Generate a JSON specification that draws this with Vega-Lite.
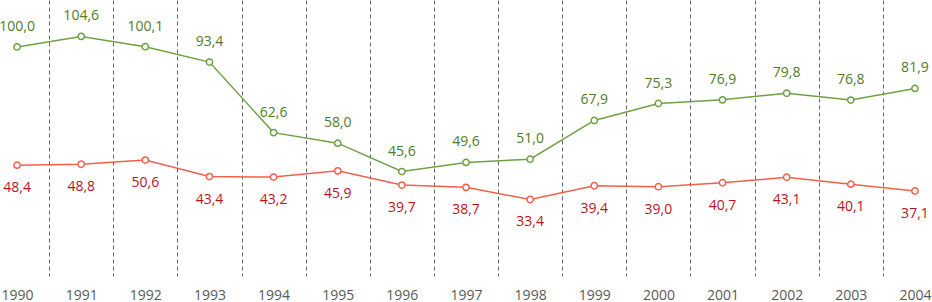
{
  "$schema": "https://vega.github.io/schema/vega-lite/v6.json",
  "width": 932,
  "height": 276,
  "autosize": {"type": "none"},
  "padding": {"left": 0, "top": 0, "right": 0, "bottom": 26},
  "background": "white",
  "config": {
    "view": {"stroke": null},
    "locale": {
      "number": {"decimal": ",", "thousands": ".", "grouping": [3], "currency": ["", " €"]}
    }
  },
  "data": {
    "values": [
      {"year": "1990", "series": "A", "value": 100.0},
      {"year": "1991", "series": "A", "value": 104.6},
      {"year": "1992", "series": "A", "value": 100.1},
      {"year": "1993", "series": "A", "value": 93.4},
      {"year": "1994", "series": "A", "value": 62.6},
      {"year": "1995", "series": "A", "value": 58.0},
      {"year": "1996", "series": "A", "value": 45.6},
      {"year": "1997", "series": "A", "value": 49.6},
      {"year": "1998", "series": "A", "value": 51.0},
      {"year": "1999", "series": "A", "value": 67.9},
      {"year": "2000", "series": "A", "value": 75.3},
      {"year": "2001", "series": "A", "value": 76.9},
      {"year": "2002", "series": "A", "value": 79.8},
      {"year": "2003", "series": "A", "value": 76.8},
      {"year": "2004", "series": "A", "value": 81.9},
      {"year": "1990", "series": "B", "value": 48.4},
      {"year": "1991", "series": "B", "value": 48.8},
      {"year": "1992", "series": "B", "value": 50.6},
      {"year": "1993", "series": "B", "value": 43.4},
      {"year": "1994", "series": "B", "value": 43.2},
      {"year": "1995", "series": "B", "value": 45.9},
      {"year": "1996", "series": "B", "value": 39.7},
      {"year": "1997", "series": "B", "value": 38.7},
      {"year": "1998", "series": "B", "value": 33.4},
      {"year": "1999", "series": "B", "value": 39.4},
      {"year": "2000", "series": "B", "value": 39.0},
      {"year": "2001", "series": "B", "value": 40.7},
      {"year": "2002", "series": "B", "value": 43.1},
      {"year": "2003", "series": "B", "value": 40.1},
      {"year": "2004", "series": "B", "value": 37.1}
    ]
  },
  "encoding": {
    "x": {
      "field": "year",
      "type": "ordinal",
      "scale": {"range": [-15, 947], "paddingInner": 0, "paddingOuter": 0},
      "axis": {
        "title": null,
        "grid": true,
        "gridDash": [4, 3],
        "gridColor": "#666666",
        "gridWidth": 1,
        "tickBand": "extent",
        "domain": false,
        "ticks": false,
        "labelAngle": 0,
        "labelFont": "Open Sans",
        "labelFontSize": 14,
        "labelColor": "#595959",
        "labelPadding": 12
      }
    },
    "y": {
      "field": "value",
      "type": "quantitative",
      "scale": {"domain": [0, 120.5], "nice": false, "zero": false},
      "axis": null
    }
  },
  "layer": [
    {
      "mark": {"type": "line", "strokeWidth": 1.5},
      "encoding": {
        "color": {
          "field": "series",
          "type": "nominal",
          "scale": {"domain": ["A", "B"], "range": ["#6fa142", "#f2604a"]},
          "legend": null
        }
      }
    },
    {
      "mark": {"type": "point", "filled": true, "fill": "white", "size": 40, "strokeWidth": 1.5, "opacity": 1},
      "encoding": {
        "stroke": {
          "field": "series",
          "type": "nominal",
          "scale": {"domain": ["A", "B"], "range": ["#6fa142", "#f2604a"]},
          "legend": null
        }
      }
    },
    {
      "transform": [{"filter": "datum.series === 'A'"}],
      "mark": {"type": "text", "dy": -20, "font": "Open Sans", "fontSize": 14, "color": "#4e7d27"},
      "encoding": {"text": {"field": "value", "type": "quantitative", "format": ".1f"}}
    },
    {
      "transform": [{"filter": "datum.series === 'B'"}],
      "mark": {"type": "text", "dy": 23, "font": "Open Sans", "fontSize": 14, "color": "#b8141e"},
      "encoding": {"text": {"field": "value", "type": "quantitative", "format": ".1f"}}
    }
  ]
}
